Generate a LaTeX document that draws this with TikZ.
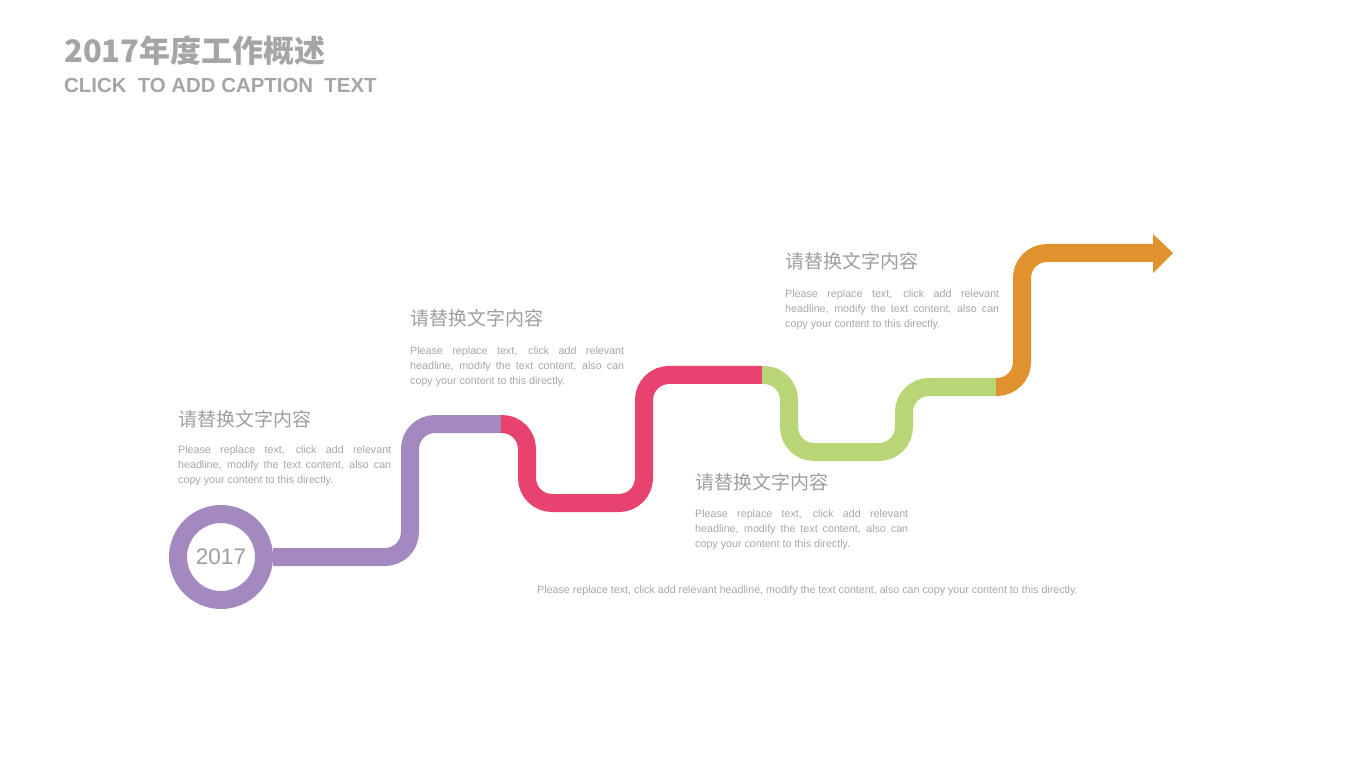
\documentclass[tikz,border=0pt]{standalone}
\usepackage{fontspec}
\setmainfont{Liberation Sans}
\newfontfamily\cjk{Noto Sans CJK SC}
\definecolor{purp}{HTML}{A389C0}
\definecolor{rosso}{HTML}{E8436F}
\definecolor{verde}{HTML}{B8D675}
\definecolor{arancio}{HTML}{E0922F}
\definecolor{titlegray}{HTML}{A5A5A5}
\definecolor{headgray}{HTML}{9E9E9E}
\definecolor{bodygray}{HTML}{A6A6A6}
\newcommand{\bodytext}{Please replace text, click add relevant\linebreak headline, modify the text content, also can\linebreak copy your content to this directly.}
\begin{document}
\begin{tikzpicture}[x=1pt,y=-1pt,
  seg/.style={line width=18pt, rounded corners=25pt},
  headtxt/.style={anchor=base west, inner sep=0, text=headgray, font=\cjk\fontsize{19}{19}\selectfont},
  bodytxt/.style={anchor=base west, inner sep=0, text=bodygray, font=\fontsize{10.7}{15}\selectfont},
]
\useasboundingbox (0,0) rectangle (1350,759);
% title
\node[anchor=base west, inner sep=0, text=titlegray, font=\cjk\bfseries\fontsize{31}{31}\selectfont] (title) at (64,63) {2017年度工作概述};
\node[anchor=base west, inner sep=0, text=titlegray, font=\bfseries\fontsize{20.4}{20.4}\selectfont] (cap) at (64,93) {CLICK\ \ TO ADD CAPTION\ \ TEXT};
% start circle
\node[circle, draw=purp, line width=18pt, minimum size=86pt, inner sep=0, text=headgray, font=\fontsize{22.5}{22.5}\selectfont] (c) at (221,557) {2017};
% path
\coordinate (p1) at (501,424);
\coordinate (p2) at (762,375);
\coordinate (p3) at (996,387);
\coordinate (p4) at (1153,253);
\draw[seg, purp] (c.east) -- (410,557) -- (410,424) -- (p1);
\draw[seg, rosso] (p1) -- (527,424) -- (527,503) -- (644,503) -- (644,375) -- (p2);
\draw[seg, verde] (p2) -- (789,375) -- (789,452) -- (904,452) -- (904,387) -- (p3);
\draw[seg, arancio] (p3) -- (1022,387) -- (1022,253) -- (p4);
\fill[arancio] (1153,234) -- (1173,253) -- (1153,273) -- cycle;
% text blocks
\node[headtxt] (h1) at (178,426) {请替换文字内容};
\node[bodytxt] (b1) at (178,453) {\parbox[t]{213pt}{\hyphenpenalty=10000\bodytext}};
\node[headtxt] (h2) at (410,326) {请替换文字内容};
\node[bodytxt] (b2) at (410,355) {\parbox[t]{214pt}{\hyphenpenalty=10000\bodytext}};
\node[headtxt] (h3) at (695,489) {请替换文字内容};
\node[bodytxt] (b3) at (695,517) {\parbox[t]{213pt}{\hyphenpenalty=10000\bodytext}};
\node[headtxt] (h4) at (785,269) {请替换文字内容};
\node[bodytxt] (b4) at (785,298) {\parbox[t]{214pt}{\hyphenpenalty=10000\bodytext}};
\node[bodytxt] (bottom) at (537,593) {Please replace text, click add relevant headline, modify the text content, also can copy your content to this directly.};
\end{tikzpicture}
\end{document}
